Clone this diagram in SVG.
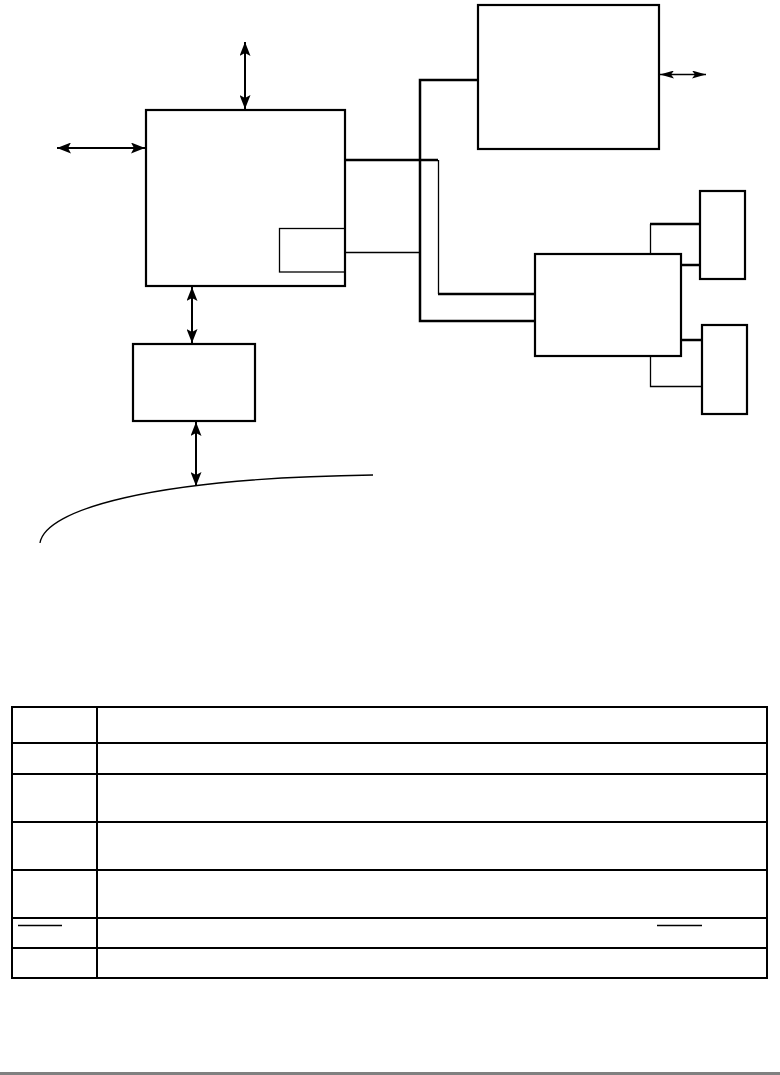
<svg xmlns="http://www.w3.org/2000/svg" width="780" height="1075" viewBox="0 0 780 1075">
<style>
.box{fill:#fff;stroke:#000;stroke-width:2.2}
.thin{fill:none;stroke:#000;stroke-width:1.3}
.thick{fill:none;stroke:#000;stroke-width:2.5}
.arr{fill:none;stroke:#000;stroke-width:2;marker-start:url(#ah);marker-end:url(#ah)}
.arrs{fill:none;stroke:#000;stroke-width:1.3;marker-start:url(#ahs);marker-end:url(#ahs)}
.tbl{fill:none;stroke:#000;stroke-width:2}
</style>
<defs>
<marker id="ah" viewBox="0 0 14 11" refX="14" refY="5.5" markerWidth="14" markerHeight="11" markerUnits="userSpaceOnUse" orient="auto-start-reverse">
<path d="M0,0 L14,5.5 L0,11 L3,5.5 z" fill="#000"/>
</marker>
<marker id="ahs" viewBox="0 0 14 8" refX="14" refY="4" markerWidth="14" markerHeight="8" markerUnits="userSpaceOnUse" orient="auto-start-reverse">
<path d="M0,0 L14,4 L0,8 L3,4 z" fill="#000"/>
</marker>
</defs>
<rect width="780" height="1075" fill="#fff"/>
<g id="connectors">
<line class="arr" x1="245" y1="42" x2="245" y2="109"/>
<line class="arr" x1="57" y1="148" x2="145" y2="148"/>
<line class="arr" x1="192" y1="287" x2="192" y2="343"/>
<line class="arr" x1="196" y1="422" x2="196" y2="486"/>
<line class="arrs" x1="660" y1="74.5" x2="706" y2="74.5"/>
<polyline class="thick" points="478,80 420,80 420,321 535,321"/>
<polyline class="thick" points="346,160 438,160"/>
<polyline class="thin" points="438.5,160 438.5,294"/>
<polyline class="thick" points="438,294 535,294"/>
<polyline class="thin" points="346,252.5 420,252.5"/>
<polyline class="thin" points="650.5,254 650.5,224"/>
<polyline class="thick" points="650,224 700,224"/>
<polyline class="thick" points="681,265 700,265"/>
<polyline class="thick" points="681,340 702,340"/>
<polyline class="thin" points="650.5,356 650.5,386.5 702,386.5"/>
<path class="thin" d="M40,543 C45,510 150,478 373,475"/>
</g>
<g id="main">
<rect class="box" x="146" y="110" width="199" height="176"/>
<rect class="thin" x="279.5" y="228.5" width="65.5" height="43.5"/>
</g>
<g id="topright"><rect class="box" x="478" y="5" width="181" height="144"/></g>
<g id="middle"><rect class="box" x="535" y="254" width="146" height="102"/></g>
<g id="small1"><rect class="box" x="700" y="191" width="45" height="88"/></g>
<g id="small2"><rect class="box" x="702" y="325" width="45" height="89"/></g>
<g id="lower"><rect class="box" x="133" y="344" width="122" height="77"/></g>
<g id="table">
<rect class="tbl" x="12" y="707" width="755" height="271"/>
<line class="tbl" x1="97" y1="707" x2="97" y2="978"/>
<line class="tbl" x1="12" y1="743" x2="767" y2="743"/>
<line class="tbl" x1="12" y1="774" x2="767" y2="774"/>
<line class="tbl" x1="12" y1="822" x2="767" y2="822"/>
<line class="tbl" x1="12" y1="870" x2="767" y2="870"/>
<line class="tbl" x1="12" y1="918" x2="767" y2="918"/>
<line class="tbl" x1="12" y1="948" x2="767" y2="948"/>
<line class="thin" x1="18" y1="925.5" x2="62" y2="925.5"/>
<line class="thin" x1="657" y1="925.5" x2="702" y2="925.5"/>
</g>
<rect x="0" y="1072" width="780" height="3" fill="#808080"/>
</svg>
